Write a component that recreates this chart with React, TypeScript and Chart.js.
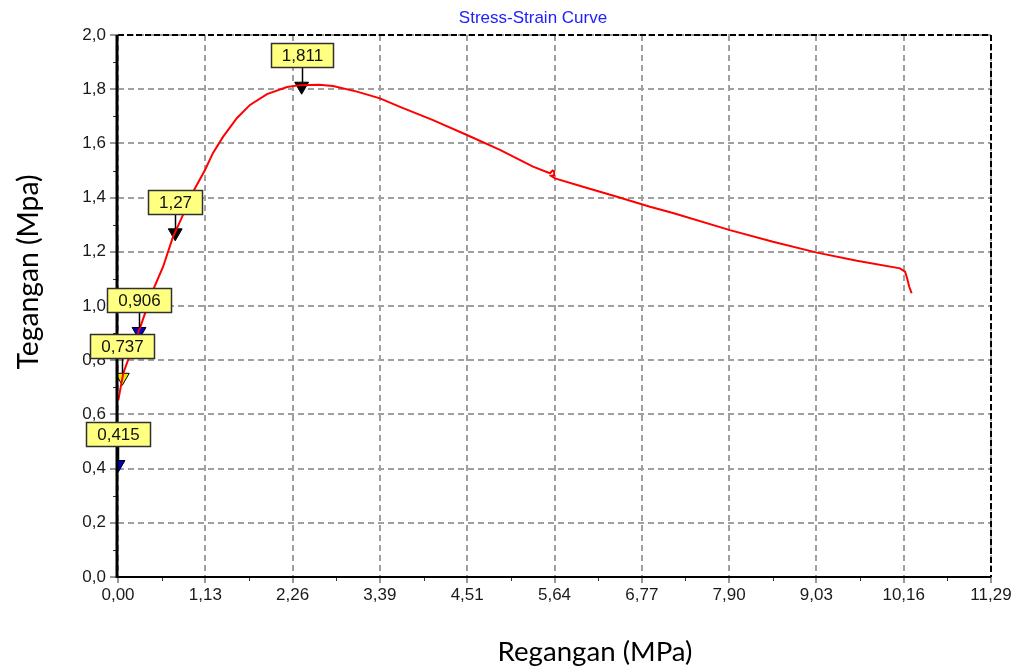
import React, { useEffect, useRef } from "react";
import { Chart, registerables } from "chart.js";

Chart.register(...registerables);

// ---- data ----
const strainX = [
  0.004, 0.069, 0.306, 0.453, 0.582, 0.711, 0.828, 0.97, 1.125, 1.229, 1.358, 1.539,
  1.707, 1.927, 2.186, 2.354, 2.6, 2.78, 3.091, 3.388, 3.647, 4.074, 4.513, 4.94,
  5.367, 5.587, 5.62, 5.64, 5.64, 5.6, 5.651, 6.013, 6.453, 6.88, 7.177, 7.914,
  8.47, 9.039, 9.557, 10.113, 10.178, 10.2, 10.233, 10.264,
];
const stressY = [
  0.653, 0.753, 0.937, 1.059, 1.144, 1.255, 1.328, 1.421, 1.502, 1.565, 1.624, 1.694,
  1.742, 1.782, 1.808, 1.815, 1.816, 1.812, 1.791, 1.766, 1.735, 1.686, 1.631, 1.576,
  1.514, 1.49, 1.5, 1.497, 1.483, 1.48, 1.471, 1.44, 1.403, 1.366, 1.343, 1.28,
  1.237, 1.197, 1.167, 1.139, 1.127, 1.108, 1.071, 1.047,
];

const markerX = [0.0, 0.056, 0.272, 0.74, 2.375];
const markerY = [0.415, 0.737, 0.906, 1.27, 1.811];
const markerLabels = ["0,415", "0,737", "0,906", "1,27", "1,811"];
const markerColors = ["#0000c8", "#e8e800", "#0000c8", "#000000", "#000000"];

const xTickLabels = ["0,00", "1,13", "2,26", "3,39", "4,51", "5,64", "6,77", "7,90", "9,03", "10,16", "11,29"];
const yTickLabels = ["0,0", "0,2", "0,4", "0,6", "0,8", "1,0", "1,2", "1,4", "1,6", "1,8", "2,0"];

const xMax = 11.29;
const xStep = 1.129;
const yMax = 2.0;
const yStep = 0.2;

const chartTitle = "Stress-Strain Curve";
const xTitle = "Regangan (MPa)";
const yTitle = "Tegangan (Mpa)";

const tickFont = '17px "Liberation Sans", Arial, sans-serif';

export default function App() {
  const ref = useRef<HTMLCanvasElement>(null);

  useEffect(() => {
    const canvas = ref.current!;

    const overlay = {
      id: "overlay",
      afterDatasetsDraw(chart: any) {
        const ctx = chart.ctx as CanvasRenderingContext2D;
        const { left, right, top, bottom } = chart.chartArea;
        const xs = chart.scales.x;
        const ys = chart.scales.y;
        ctx.save();

        // minor ticks
        ctx.strokeStyle = "#333";
        ctx.lineWidth = 1;
        for (let i = 0; i < xTickLabels.length - 1; i++) {
          const px = Math.round(xs.getPixelForValue((i + 0.5) * xStep)) + 0.5;
          ctx.beginPath();
          ctx.moveTo(px, bottom + 1);
          ctx.lineTo(px, bottom + 4);
          ctx.stroke();
        }
        for (let i = 0; i < yTickLabels.length - 1; i++) {
          const py = Math.round(ys.getPixelForValue((i + 0.5) * yStep)) + 0.5;
          ctx.beginPath();
          ctx.moveTo(left - 5, py);
          ctx.lineTo(left - 2, py);
          ctx.stroke();
        }

        // frame: dashed top/right, solid left/bottom
        ctx.strokeStyle = "#000";
        ctx.lineWidth = 2;
        ctx.setLineDash([6, 3]);
        ctx.beginPath();
        ctx.moveTo(left, top);
        ctx.lineTo(right, top);
        ctx.lineTo(right, bottom);
        ctx.stroke();
        ctx.setLineDash([]);
        ctx.beginPath();
        ctx.moveTo(left - 2, bottom);
        ctx.lineTo(right, bottom);
        ctx.stroke();
        ctx.lineWidth = 3;
        ctx.beginPath();
        ctx.moveTo(left - 1, top);
        ctx.lineTo(left - 1, bottom + 1);
        ctx.stroke();

        // marker labels
        const meta = chart.getDatasetMeta(1);
        ctx.font = tickFont;
        ctx.textAlign = "center";
        ctx.textBaseline = "middle";
        meta.data.forEach((el: any, i: number) => {
          const { x, y } = el.getProps(["x", "y"], true);
          const text = markerLabels[i];
          const w = Math.round(ctx.measureText(text).width + 21);
          const h = 24;
          const bx = Math.round(x - w / 2);
          const by = Math.round(y - 19 - h);
          ctx.strokeStyle = "#000";
          ctx.lineWidth = 1.5;
          ctx.beginPath();
          ctx.moveTo(Math.round(x) + 0.5, by + h);
          ctx.lineTo(Math.round(x) + 0.5, y - 4);
          ctx.stroke();
          ctx.fillStyle = "#ffff80";
          ctx.fillRect(bx, by, w, h);
          ctx.lineWidth = 1.5;
          ctx.strokeStyle = "#303030";
          ctx.strokeRect(bx + 0.5, by + 0.5, w, h);
          ctx.fillStyle = "#111";
          ctx.fillText(text, bx + w / 2 + 0.5, by + h / 2 + 1);
        });

        // titles
        ctx.fillStyle = "#2020ff";
        ctx.font = '17px "Liberation Sans", Arial, sans-serif';
        ctx.textAlign = "center";
        ctx.textBaseline = "alphabetic";
        ctx.fillText(chartTitle, 533, 23);

        ctx.fillStyle = "#000";
        const fitFont = (t: string, target: number) => {
          let size = 24;
          ctx.font = `${size}px Lato, "Open Sans", sans-serif`;
          const w = ctx.measureText(t).width;
          size = (size * target) / w;
          ctx.font = `${size.toFixed(2)}px Lato, "Open Sans", sans-serif`;
        };
        fitFont(xTitle, 195);
        ctx.fillText(xTitle, 595, 661);

        ctx.translate(38, 272);
        ctx.rotate(-Math.PI / 2);
        fitFont(yTitle, 195);
        ctx.fillText(yTitle, 0, 0);

        ctx.restore();
      },
    };

    const chart = new Chart(canvas, {
      type: "line",
      data: {
        datasets: [
          {
            label: "curve",
            data: strainX.map((x, i) => ({ x, y: stressY[i] })),
            borderColor: "#ff0000",
            borderWidth: 2,
            pointRadius: 0,
            tension: 0,
            fill: false,
          },
          {
            label: "markers",
            type: "scatter",
            data: markerX.map((x, i) => ({ x, y: markerY[i] })),
            pointStyle: "triangle",
            rotation: 180,
            radius: 8,
            pointRadius: 8,
            pointBackgroundColor: markerColors,
            pointBorderColor: "#000",
            pointBorderWidth: 1,
            showLine: false,
          } as any,
        ],
      },
      options: {
        responsive: false,
        animation: false,
        events: [],
        layout: { padding: { left: 0, right: 24, top: 35, bottom: 62 } },
        plugins: {
          legend: { display: false },
          title: { display: false },
          tooltip: { enabled: false },
        },
        scales: {
          x: {
            type: "linear",
            min: 0,
            max: xMax,
            afterBuildTicks: (scale: any) => {
              scale.ticks = xTickLabels.map((_, i) => ({ value: i * xStep }));
            },
            afterFit: (scale: any) => {
              scale.height = 30;
            },
            ticks: {
              callback: (_v: any, i: number) => xTickLabels[i],
              font: { family: '"Liberation Sans", Arial, sans-serif', size: 17 },
              color: "#1a1a1a",
              padding: 2,
              maxRotation: 0,
              autoSkip: false,
            },
            grid: {
              color: "#a0a0a0",
              lineWidth: 2,
              drawTicks: true,
              tickLength: 6,
              tickColor: "#333",
              tickWidth: 1,
            },
            border: { display: false, dash: [6, 4] },
          },
          y: {
            type: "linear",
            min: 0,
            max: yMax,
            afterBuildTicks: (scale: any) => {
              scale.ticks = yTickLabels.map((_, i) => ({ value: i * yStep }));
            },
            afterFit: (scale: any) => {
              scale.width = 118;
            },
            ticks: {
              callback: (_v: any, i: number) => yTickLabels[i],
              font: { family: '"Liberation Sans", Arial, sans-serif', size: 17 },
              color: "#1a1a1a",
              padding: 4,
              autoSkip: false,
            },
            grid: {
              color: "#a0a0a0",
              lineWidth: 2,
              drawTicks: true,
              tickLength: 8,
              tickColor: "#333",
              tickWidth: 1,
            },
            border: { display: false, dash: [6, 4] },
          },
        },
      },
      plugins: [overlay],
    } as any);

    return () => chart.destroy();
  }, []);

  return (
    <div style={{ position: "fixed", left: 0, top: 0, width: 1015, height: 669, background: "#fff" }}>
      <canvas ref={ref} width={1015} height={669} style={{ display: "block" }} />
    </div>
  );
}
